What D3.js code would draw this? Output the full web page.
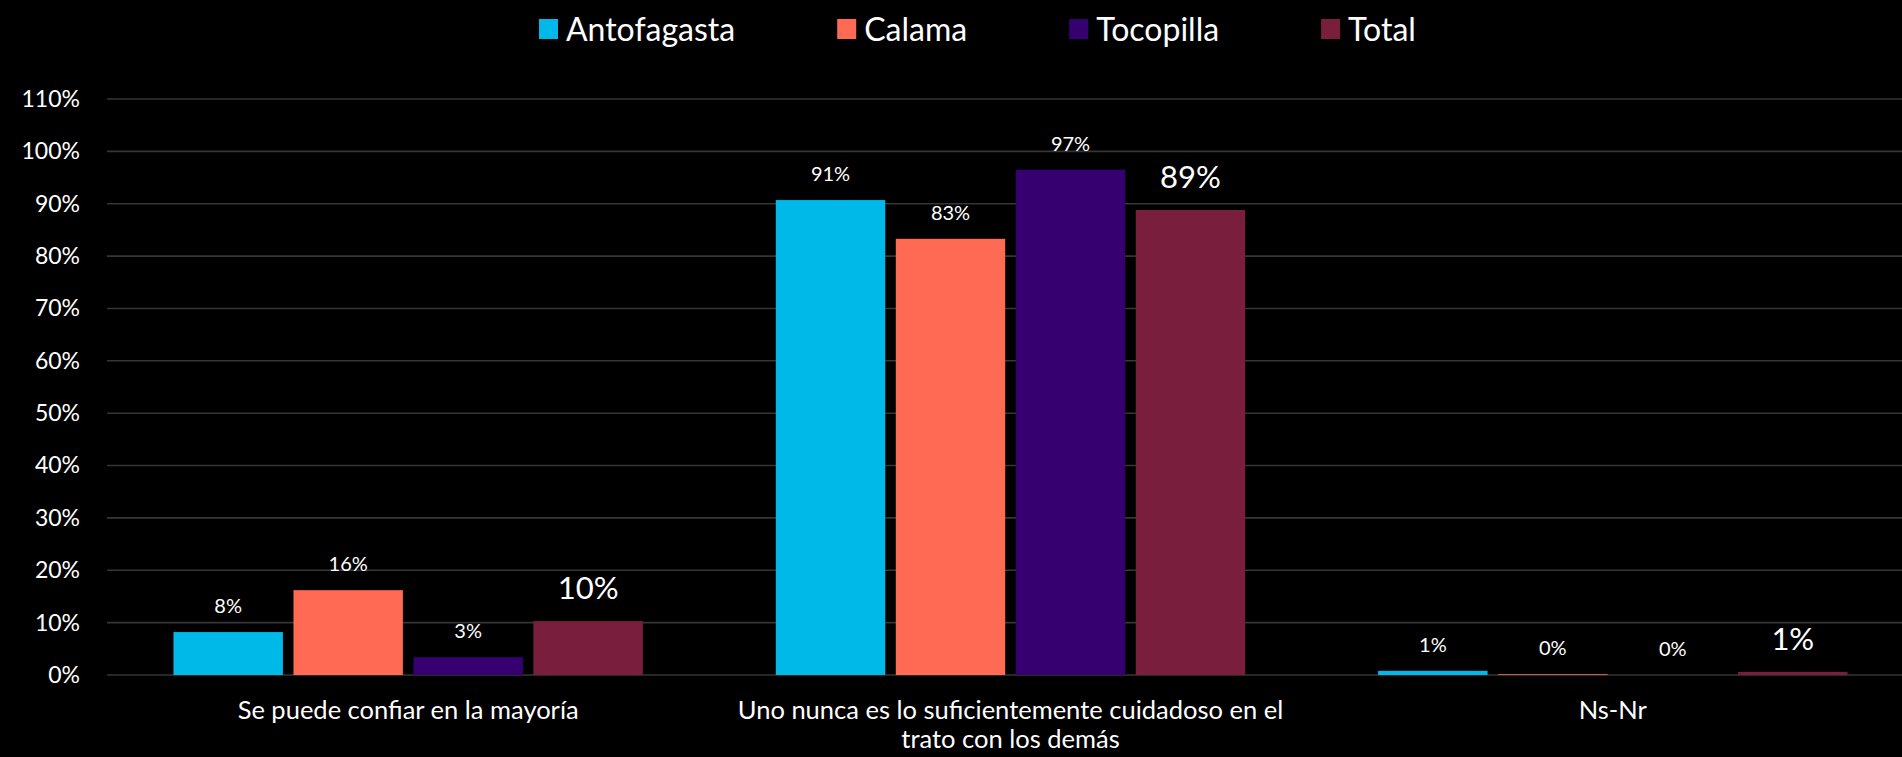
<!DOCTYPE html>
<html>
<head>
<meta charset="utf-8">
<script src="https://cdn.jsdelivr.net/npm/d3@7"></script>
<style>
  html, body { margin: 0; padding: 0; background: #000; }
  svg { display: block; }
  text { font-family: Lato, "Open Sans", sans-serif; fill: #fff; }
</style>
</head>
<body>
<div id="chart"></div>
<script>
// data
var categories = ["Se puede confiar en la mayoría",
  "Uno nunca es lo suficientemente cuidadoso en el trato con los demás",
  "Ns-Nr"];
var categoryLines = [["Se puede confiar en la mayoría"],
  ["Uno nunca es lo suficientemente cuidadoso en el", "trato con los demás"],
  ["Ns-Nr"]];
var seriesNames = ["Antofagasta", "Calama", "Tocopilla", "Total"];
var seriesColors = ["#00b9e8", "#ff6a55", "#360070", "#7a1e3e"];
var antofagasta = [8.2, 90.7, 0.8];
var calama = [16.2, 83.3, 0.15];
var tocopilla = [3.4, 96.5, 0];
var total = [10.3, 88.8, 0.6];
var valueLabels = [["8%", "91%", "1%"], ["16%", "83%", "0%"], ["3%", "97%", "0%"], ["10%", "89%", "1%"]];
var yTicks = [0, 10, 20, 30, 40, 50, 60, 70, 80, 90, 100, 110];

var values = [antofagasta, calama, tocopilla, total];

var W = 1902, H = 757;
var margin = { top: 99, left: 107, bottom: 82 };
var y0 = H - margin.bottom; // 675

var svg = d3.select("#chart").append("svg")
  .attr("width", W)
  .attr("height", H);

var x0 = d3.scaleBand().domain(categories).range([margin.left, 1914]);
var x1 = d3.scaleBand().domain(seriesNames).range([0, x0.step()])
  .paddingInner(0.088).paddingOuter(0.554);
var y = d3.scaleLinear().domain([0, 110]).range([y0, margin.top]);

// gridlines
svg.append("g")
  .selectAll("line")
  .data(yTicks)
  .enter()
  .append("line")
  .attr("x1", margin.left)
  .attr("x2", W)
  .attr("y1", function(d) { return y(d); })
  .attr("y2", function(d) { return y(d); })
  .attr("stroke", "#363636")
  .attr("stroke-width", 1.6);

// y axis labels
var yAxis = svg.append("g")
  .attr("transform", "translate(80,0)")
  .call(d3.axisLeft(y).tickValues(yTicks).tickSize(0).tickPadding(0)
    .tickFormat(function(d) { return d + "%"; }));
yAxis.select(".domain").remove();
yAxis.selectAll("text")
  .style("font-size", "23px")
  .style("font-family", "Lato, sans-serif")
  .attr("fill", "#fff");

// bars
var groups = svg.selectAll(".series")
  .data(seriesNames)
  .enter()
  .append("g")
  .attr("class", "series");

groups.each(function(name, si) {
  var g = d3.select(this);
  g.selectAll("rect")
    .data(values[si])
    .enter()
    .append("rect")
    .attr("x", function(d, ci) { return x0(categories[ci]) + x1(name); })
    .attr("width", x1.bandwidth())
    .attr("y", function(d) { return y(d); })
    .attr("height", function(d) { return y0 - y(d); })
    .attr("fill", seriesColors[si]);

  g.selectAll("text")
    .data(values[si])
    .enter()
    .append("text")
    .attr("x", function(d, ci) { return x0(categories[ci]) + x1(name) + x1.bandwidth() / 2; })
    .attr("y", function(d) { return y(d) - (si === 3 ? 22 : 19); })
    .attr("text-anchor", "middle")
    .style("font-size", si === 3 ? "31px" : "20px")
    .text(function(d, ci) { return valueLabels[si][ci]; });
});

// category labels
var cat = svg.append("g")
  .selectAll("text")
  .data(categories)
  .enter()
  .append("text")
  .attr("x", function(d) { return x0(d) + x0.bandwidth() / 2; })
  .attr("y", 719)
  .attr("text-anchor", "middle")
  .style("font-size", "25.5px");
cat.selectAll("tspan")
  .data(function(d, i) { return categoryLines[i]; })
  .enter()
  .append("tspan")
  .attr("x", function() { return d3.select(this.parentNode).attr("x"); })
  .attr("dy", function(d, i) { return i === 0 ? 0 : 29; })
  .text(function(d) { return d; });

// legend
var legend = svg.append("g").attr("transform", "translate(539,0)");
var lx = 0;
seriesNames.forEach(function(name, i) {
  var item = legend.append("g").attr("transform", "translate(" + lx + ",0)");
  item.append("rect")
    .attr("x", 0)
    .attr("y", 19)
    .attr("width", 19)
    .attr("height", 20)
    .attr("fill", seriesColors[i]);
  var t = item.append("text")
    .attr("x", 27)
    .attr("y", 41)
    .style("font-size", "32px")
    .text(name);
  lx += 27 + t.node().getComputedTextLength() + 102;
});
</script>
</body>
</html>
